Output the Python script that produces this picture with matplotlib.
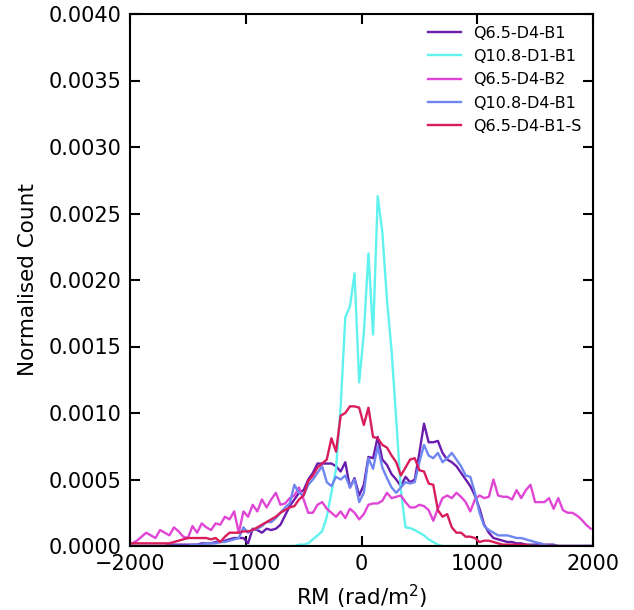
import numpy as np
import matplotlib
matplotlib.use("Agg")
import matplotlib.pyplot as plt

rm_centers = np.arange(-1980, 2000, 40)

labels = ["Q6.5-D4-B1", "Q10.8-D1-B1", "Q6.5-D4-B2", "Q10.8-D4-B1", "Q6.5-D4-B1-S"]
colors = ["#6a1cae", "#5ff2ee", "#e046d6", "#6f86f0", "#d81d5a"]

# values in units of 1e-4
q65_d4_b1 = [0, 0, 0, 0, 0, 0, 0, 0, 0.1, 0.1,
             0.1, 0.1, 0.1, 0.1, 0.1, 0.2, 0.2, 0.2, 0.3, 0.3,
             0.4, 0.5, 0.6, 0.6, 0.6, 0.2, 1.3, 1.2, 1.0, 1.3,
             1.2, 1.3, 1.6, 2.3, 3.0, 3.5, 4.0, 4.2, 5.0, 5.5,
             6.2, 6.2, 6.2, 6.2, 6.0, 5.6, 6.3, 4.4, 5.1, 3.8,
             4.6, 6.7, 6.6, 8.2, 6.5, 6.1, 5.4, 5.0, 4.5, 5.2,
             4.8, 5.0, 7.0, 9.2, 7.8, 7.8, 7.9, 7.0, 6.5, 6.3,
             6.0, 5.5, 5.0, 4.5, 3.8, 2.8, 1.6, 1.0, 0.6, 0.5,
             0.4, 0.3, 0.3, 0.2, 0.2, 0.1, 0.1, 0.1, 0.2, 0.1,
             0.1, 0.1, 0, 0, 0, 0, 0, 0, 0, 0]

q108_d1_b1 = [0] * 36 + [0.1, 0.1, 0.2, 0.5,
              0.8, 1.1, 2.2, 4.0, 5.8, 10.5, 17.2, 18.0, 20.5, 12.3,
              16.0, 22.0, 15.9, 26.3, 23.6, 18.5, 14.7, 9.5, 4.2, 1.4,
              1.35, 1.2, 1.0, 0.8, 0.5, 0.3, 0.1] + [0] * 33

q65_d4_b2 = [0.2, 0.4, 0.7, 1.0, 0.8, 0.6, 1.2, 1.0, 0.8, 1.4,
             1.1, 0.7, 0.6, 1.5, 1.0, 1.7, 1.4, 1.2, 1.7, 1.6,
             2.2, 2.0, 2.6, 1.0, 2.6, 2.2, 3.1, 2.6, 3.5, 2.9,
             3.5, 4.0, 3.1, 3.2, 3.6, 3.8, 4.4, 3.5, 2.5, 2.5,
             3.1, 3.3, 2.8, 2.5, 2.2, 2.6, 2.1, 2.8, 2.5, 2.0,
             2.4, 3.1, 3.2, 3.2, 3.4, 4.0, 3.6, 3.7, 3.8, 3.3,
             2.9, 2.9, 3.1, 3.0, 2.7, 1.9, 2.8, 3.6, 3.8, 3.6,
             4.0, 3.7, 3.3, 2.6, 3.5, 3.8, 3.6, 3.7, 5.0, 3.8,
             3.7, 3.7, 3.5, 4.2, 3.6, 4.2, 4.6, 3.3, 3.3, 3.3,
             3.6, 2.8, 3.6, 2.7, 2.5, 2.5, 2.3, 2.0, 1.6, 1.3]

q108_d4_b1 = [0] * 13 + [0.1, 0.1, 0.1, 0.2, 0.2, 0.2, 0.3,
              0.3, 0.4, 0.5, 0.6, 1.4, 1.0, 1.2, 1.3, 1.5, 1.8,
              1.8, 2.1, 2.5, 2.9, 3.2, 4.6, 4.0, 3.8, 4.6, 5.0,
              5.5, 6.0, 4.8, 4.5, 5.2, 5.0, 5.3, 4.4, 5.0, 3.3,
              4.0, 6.6, 5.8, 7.5, 5.9, 5.1, 4.4, 4.0, 4.4, 4.8,
              4.7, 4.8, 6.3, 7.6, 6.8, 6.6, 7.0, 6.3, 6.6, 7.0,
              6.5, 6.0, 5.3, 5.2, 4.0, 2.5, 1.5, 1.2, 1.0, 0.8,
              0.8, 0.8, 0.7, 0.6, 0.6, 0.5, 0.4, 0.3, 0.2, 0.1] + [0] * 10

q65_d4_b1_s = [0.2, 0.2, 0.2, 0.2, 0.2, 0.2, 0.2, 0.2, 0.2, 0.3,
               0.4, 0.5, 0.6, 0.6, 0.6, 0.6, 0.6, 0.5, 0.6, 0.3,
               0.7, 1.0, 1.0, 1.0, 1.1, 1.1, 1.2, 1.4, 1.6, 1.8,
               2.0, 2.2, 2.5, 2.7, 2.9, 3.0, 3.5, 3.8, 4.9, 5.3,
               5.9, 6.2, 6.5, 8.1, 7.1, 9.8, 10.0, 10.5, 10.5, 10.4,
               9.1, 10.4, 8.2, 8.1, 7.6, 7.4, 6.8, 6.3, 5.3, 5.9,
               6.5, 6.6, 5.7, 5.6, 4.7, 4.6, 2.7, 2.2, 2.4, 1.4,
               1.0, 1.0, 0.7, 0.7, 0.6, 0.3, 0.4, 0.4, 0.3, 0.2,
               0.1, 0.1, 0.1, 0.1, 0.1, 0.1, 0, 0, 0, 0,
               0, 0, 0, 0, 0, 0, 0, 0, 0, 0]

series = [q65_d4_b1, q108_d1_b1, q65_d4_b2, q108_d4_b1, q65_d4_b1_s]

fig = plt.figure(figsize=(6.34, 6.10), dpi=100)
ax = fig.add_axes([130 / 634, 64 / 610, 463 / 634, 532 / 610])

for vals, lab, col in zip(series, labels, colors):
    ax.plot(rm_centers, np.array(vals) * 1e-4, color=col, lw=1.7, label=lab)

ax.set_xlim(-2000, 2000)
ax.set_ylim(0, 0.004)
ax.set_xticks([-2000, -1000, 0, 1000, 2000])
ax.set_yticks(np.arange(0, 0.00401, 0.0005))
ax.yaxis.set_major_formatter(matplotlib.ticker.FormatStrFormatter("%.4f"))
ax.tick_params(direction="in", length=7, width=1.5, labelsize=15,
               top=True, right=True, pad=6)
for s in ax.spines.values():
    s.set_linewidth(1.5)
ax.set_xlabel("RM (rad/m$^2$)", fontsize=15.5, labelpad=6)
ax.set_ylabel("Normalised Count", fontsize=15.5, labelpad=8)
ax.legend(loc="upper right", frameon=False, fontsize=11.5, handlelength=2.1,
          handletextpad=0.75, labelspacing=0.52, borderaxespad=0.2,
          bbox_to_anchor=(1 - 2 / 463, 1 - 2 / 532))

fig.savefig("out.png", dpi=100)
